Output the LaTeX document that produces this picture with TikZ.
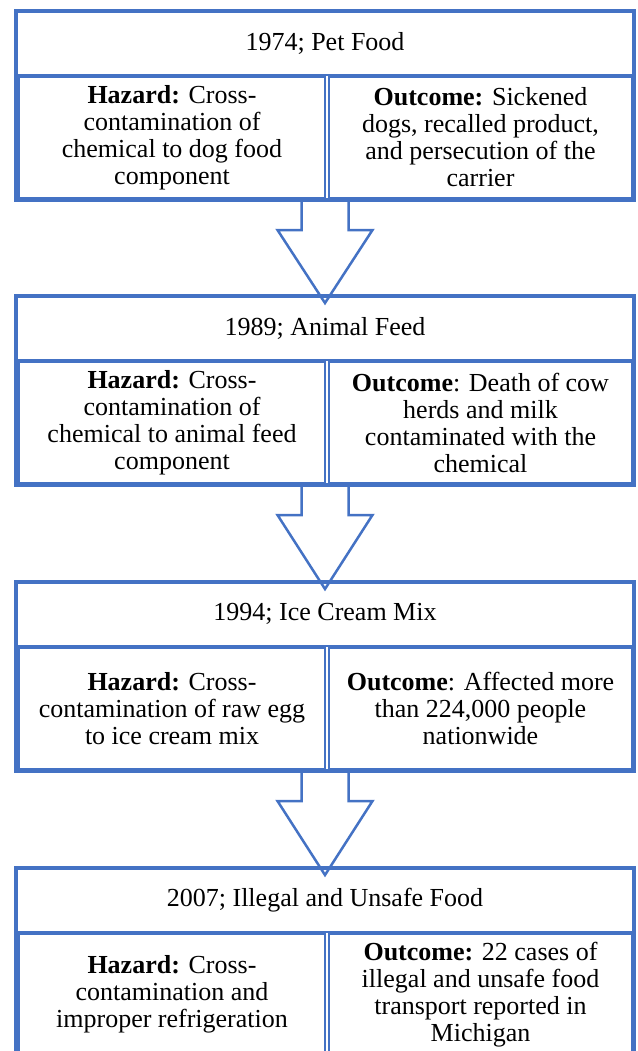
\documentclass[tikz,border=0pt]{standalone}
\usepackage{fontspec}
\setmainfont{Liberation Serif}
\usetikzlibrary{calc,backgrounds}
\definecolor{wblue}{HTML}{4472C4}
\tikzset{
  txt/.style={font=\fontsize{26pt}{27pt}\selectfont},
  outerbox/.style={draw=wblue, line width=4pt, minimum width=618pt, minimum height=189pt, inner sep=0pt, outer sep=0pt, anchor=north west},
  titlecell/.style={txt, draw=wblue, line width=2pt, minimum width=618pt, minimum height=64pt, inner sep=0pt, outer sep=0pt, anchor=north west},
  lcell/.style={txt, draw=wblue, line width=2pt, minimum width=306pt, minimum height=121pt, inner sep=0pt, outer sep=0pt, anchor=north west, align=center},
  rcell/.style={lcell, minimum width=303pt},
  blockarrow/.style={draw=wblue, line width=2.5pt, fill=white, line join=miter}
}
\begin{document}
\begin{tikzpicture}[x=1pt,y=-1pt]
\useasboundingbox (0,0) rectangle (637,1051);
\clip (0,0) rectangle (637,1051);
% Box 1
\node[outerbox] (B1) at (16,11) {};
\node[titlecell] (T1) at (16,11) {1974; Pet Food};
\node[lcell] (H1) at (19,77) {\textbf{Hazard:} Cross-\\contamination of\\chemical to dog food\\component};
\node[rcell] (O1) at (329,77) {\textbf{Outcome:} Sickened\\dogs, recalled product,\\and persecution of the\\carrier};
% Box 2
\node[outerbox] (B2) at (16,296) {};
\node[titlecell] (T2) at (16,296) {1989; Animal Feed};
\node[lcell] (H2) at (19,362) {\textbf{Hazard:} Cross-\\contamination of\\chemical to animal feed\\component};
\node[rcell] (O2) at (329,362) {\textbf{Outcome}: Death of cow\\herds and milk\\contaminated with the\\chemical};
% Box 3
\node[outerbox] (B3) at (16,582) {};
\node[titlecell] (T3) at (16,582) {1994; Ice Cream Mix};
\node[lcell] (H3) at (19,648) {\textbf{Hazard:} Cross-\\contamination of raw egg\\to ice cream mix};
\node[rcell] (O3) at (329,648) {\textbf{Outcome}: Affected more\\than 224,000 people\\nationwide};
% Box 4
\node[outerbox] (B4) at (16,868) {};
\node[titlecell] (T4) at (16,868) {2007; Illegal and Unsafe Food};
\node[lcell] (H4) at (19,934) {\textbf{Hazard:} Cross-\\contamination and\\improper refrigeration};
\node[rcell] (O4) at (329,934) {\textbf{Outcome:} 22 cases of\\illegal and unsafe food\\transport reported in\\Michigan};
% Arrows
\begin{scope}[on background layer]
\foreach \a/\b in {B1/B2,B2/B3,B3/B4}{
  \draw[blockarrow] ($(\a.south)+(-23.5,0)$) -- ($(\a.south)+(-23.5,30)$) -- ($(\a.south)+(-47.5,30)$)
    -- ($(\b.north)+(0,7)$) -- ($(\a.south)+(47.5,30)$) -- ($(\a.south)+(23.5,30)$) -- ($(\a.south)+(23.5,0)$);
}
\end{scope}
\end{tikzpicture}
\end{document}
